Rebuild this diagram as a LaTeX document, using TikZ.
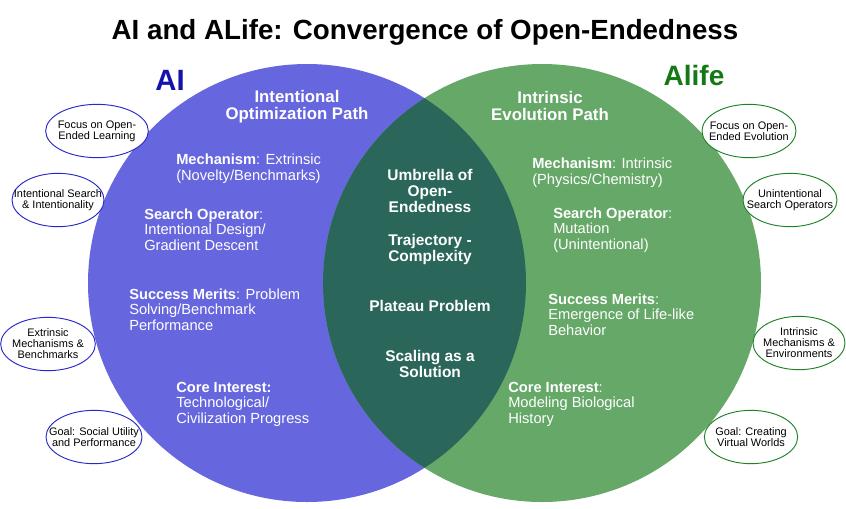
\documentclass[tikz,border=0pt]{standalone}
\usepackage{fontspec}
\setmainfont{Liberation Sans}
\usetikzlibrary{shapes.geometric}
\definecolor{aifill}{RGB}{102,102,222}
\definecolor{alfill}{RGB}{102,168,104}
\definecolor{mixfill}{RGB}{42,102,90}
\definecolor{aiedge}{RGB}{40,40,200}
\definecolor{aledge}{RGB}{30,130,40}
\definecolor{aititle}{RGB}{20,20,170}
\definecolor{altitle}{RGB}{20,120,20}
\newcommand\rad{219}

\begin{document}
\begin{tikzpicture}[x=0.75pt, y=-0.75pt,
    head/.style={text=white, font=\fontsize{12.6}{12.8}\selectfont\bfseries, align=center, inner sep=0pt},
    item/.style={text=white, font=\fontsize{11}{11.3}\selectfont, align=left, inner sep=0pt, anchor=base west},
    mid/.style={text=white, font=\fontsize{11.6}{12}\selectfont\bfseries, align=center, inner sep=0pt},
    tag/.style={ellipse, fill=white, line width=0.7pt, minimum width=71pt, minimum height=40pt, inner xsep=-20pt, inner ysep=-8pt, align=center, font=\fontsize{8.2}{8.3}\selectfont},
    aitag/.style={tag, draw=aiedge}, altag/.style={tag, draw=aledge}]
    \useasboundingbox (0,0) rectangle (846,508);

    \node[font=\fontsize{20.8}{24}\selectfont\bfseries, anchor=base] (title) at (425,39) {AI and ALife: Convergence of Open-Endedness};

    %Circles
    \fill[aifill] (307,283) circle (\rad);
    \fill[alfill] (542,283) circle (\rad);
    \begin{scope}
        \clip (307,283) circle (\rad);
        \fill[mixfill] (542,283) circle (\rad);
    \end{scope}

    \node[font=\fontsize{22}{24}\selectfont\bfseries, text=aititle, anchor=base] (ailabel) at (170,90) {AI};
    \node[font=\fontsize{21}{24}\selectfont\bfseries, text=altitle, anchor=base] (allabel) at (694,85) {Alife};

    %AI side (items sit on the baseline of their last line)
    \node[head] (aipath) at (297,107) {Intentional\\Optimization Path};
    \node[item] (aimech) at (176,180) {\textbf{Mechanism}: Extrinsic\\(Novelty/Benchmarks)};
    \node[item] (aisearch) at (144,250) {\textbf{Search Operator}:\\Intentional Design/\\Gradient Descent};
    \node[item] (aimerit) at (129,330) {\textbf{Success Merits}: Problem\\Solving/Benchmark\\Performance};
    \node[item] (aicore) at (176,423) {\textbf{Core Interest:}\\Technological/\\Civilization Progress};

    %Overlap
    \node[mid] (umbrella) at (430,191) {Umbrella of\\Open-\\Endedness};
    \node[mid] (trajectory) at (430,249) {Trajectory -\\Complexity};
    \node[mid] (plateau) at (430,306) {Plateau Problem};
    \node[mid] (scaling) at (430,364) {Scaling as a\\Solution};

    %ALife side
    \node[head] (alpath) at (550,106) {Intrinsic\\Evolution Path};
    \node[item] (almech) at (532,184) {\textbf{Mechanism}: Intrinsic\\(Physics/Chemistry)};
    \node[item] (alsearch) at (553,249) {\textbf{Search Operator}:\\Mutation\\(Unintentional)};
    \node[item] (almerit) at (548,335) {\textbf{Success Merits}:\\Emergence of Life-like\\Behavior};
    \node[item] (alcore) at (508,423) {\textbf{Core Interest}:\\Modeling Biological\\History};

    %Tags
    \node[aitag, minimum width=77pt] (aifocus) at (97,131) {Focus on Open-\\Ended Learning};
    \node[aitag, minimum width=69pt] (aiintent) at (58,200) {Intentional Search\\\& Intentionality};
    \node[aitag] (aiextr) at (48,344) {Extrinsic\\Mechanisms \&\\Benchmarks};
    \node[aitag, minimum width=72pt] (aigoal) at (94,437) {Goal: Social Utility\\and Performance};
    \node[altag, minimum width=70.5pt] (alfocus) at (749,131) {Focus on Open-\\Ended Evolution};
    \node[altag, minimum width=70.5pt] (alunint) at (790,200) {Unintentional\\Search Operators};
    \node[altag, minimum width=69pt] (alintr) at (799,343) {Intrinsic\\Mechanisms \&\\Environments};
    \node[altag, minimum width=70pt] (algoal) at (751,437) {Goal: Creating\\Virtual Worlds};
\end{tikzpicture}
\end{document}
